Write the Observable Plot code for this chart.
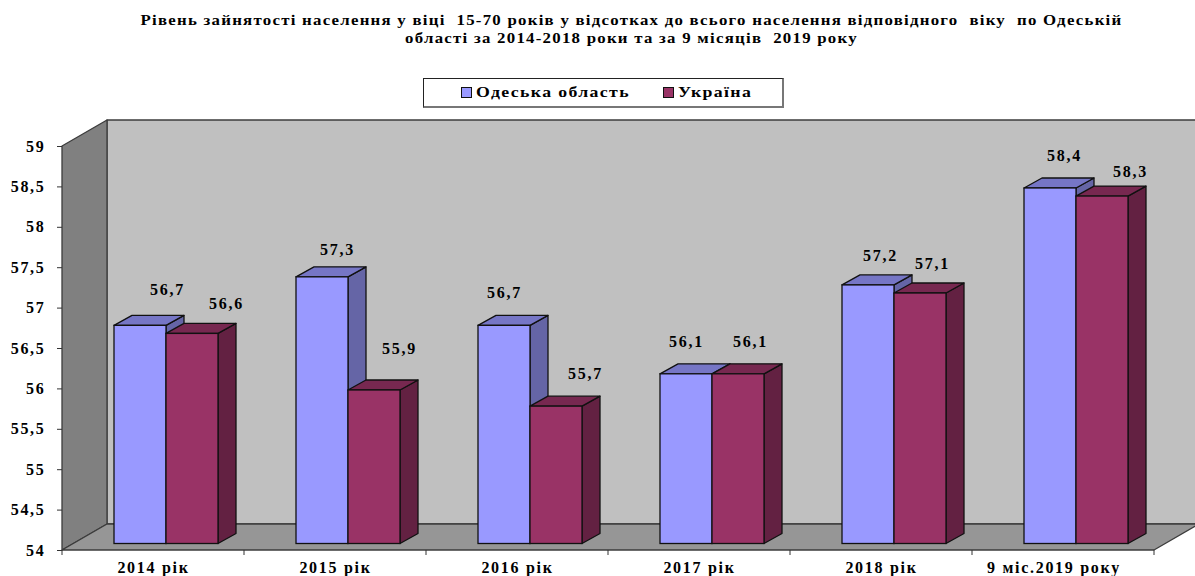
<!DOCTYPE html>
<html lang="uk">
<head>
<meta charset="utf-8">
<script src="https://cdn.jsdelivr.net/npm/d3@7"></script>
<script src="https://cdn.jsdelivr.net/npm/@observablehq/plot@0.6"></script>
<style>
html,body{margin:0;padding:0;background:#fff;}
body{width:1195px;height:576px;overflow:hidden;font-family:"Liberation Serif",serif;font-weight:bold;color:#000;}
#head{height:78px;box-sizing:border-box;padding-top:12px;text-align:center;font-size:14px;line-height:18px;letter-spacing:1.05px;margin-left:68px;white-space:pre;transform:scaleX(1.2);}
#legendrow{height:32px;position:relative;}
#legend{position:absolute;left:423px;top:0;width:358px;height:27px;background:#fff;border:1px solid #222;border-right:2px solid #777;border-bottom:2px solid #777;font-size:15px;letter-spacing:1.15px;}
#legend span{position:absolute;top:5px;line-height:17px;white-space:nowrap;transform:scaleX(1.185);transform-origin:left center;}
#legend i{position:absolute;top:8px;width:9px;height:9px;border:1px solid #111;}
svg{display:block;}
</style>
</head>
<body>
<div id="head">Рівень зайнятості населення у віці  15-70 років у відсотках до всього населення відповідного  віку  по Одеській
області за 2014-2018 роки та за 9 місяців  2019 року</div>
<div id="legendrow"><div id="legend"></div></div>
<div id="chart"></div>
<script>
const categories = ["2014 рік", "2015 рік", "2016 рік", "2017 рік", "2018 рік", "9 міс.2019 року"];
const seriesNames = ["Одеська область", "Україна"];
const odesa = [56.7, 57.3, 56.7, 56.1, 57.2, 58.4];
const ukraine = [56.6, 55.9, 55.7, 56.1, 57.1, 58.3];
const yTicks = [54, 54.5, 55, 55.5, 56, 56.5, 57, 57.5, 58, 58.5, 59];

const comma = d => String(d).replace(".", ",");
const colors = [
  {front: "#9999ff", side: "#6565a6", top: "#7676c6"},
  {front: "#993366", side: "#632142", top: "#772850"}
];
// layout constants (pixels)
const depth = {x: 45, y: -26};       // depth of the box
const barDepth = {x: 18, y: -10};    // depth of each column
const lift = -6.5;                   // columns stand slightly inside the floor
const barW = 52, barStart = 52;
const labelNudge = [
  [[14, -42], [2, -34], [-13, -39], [-13, -39], [-1, -36], [1, -39]],
  [[73, -37], [64, -48], [68, -39], [51, -39], [51, -36], [67, -31]]
];
const stroke = "#111", strokeW = 1.3;

const rows = s => categories.map((c, i) => ({cat: c, value: (s ? ukraine : odesa)[i], i}));

const poly = (pts, fill, st = stroke, sw = strokeW) => {
  const p = document.createElementNS("http://www.w3.org/2000/svg", "polygon");
  p.setAttribute("points", pts.map(q => q.join(",")).join(" "));
  p.setAttribute("fill", fill);
  p.setAttribute("stroke", st);
  p.setAttribute("stroke-width", sw);
  p.setAttribute("stroke-linejoin", "round");
  return p;
};
const group = items => {
  const g = document.createElementNS("http://www.w3.org/2000/svg", "g");
  items.forEach(n => g.appendChild(n));
  return g;
};

// back wall, side wall and floor of the box, placed through the scales
const box = (index, {y}, values, dims) => {
  const l = dims.marginLeft, r = dims.width - dims.marginRight;
  const b = y(54), t = y(59);
  const W = "#3c3c3c";
  return group([
    poly([[l + depth.x, t + depth.y], [dims.width + 20, t + depth.y], [dims.width + 20, b + depth.y], [l + depth.x, b + depth.y]], "#c0c0c0", W),
    poly([[l, t], [l + depth.x, t + depth.y], [l + depth.x, b + depth.y], [l, b]], "#808080", W),
    poly([[l, b], [l + depth.x, b + depth.y], [r + depth.x, b + depth.y], [r, b]], "#969696", W)
  ]);
};

// side and top faces of the columns for one series
const faces = s => (index, {x, y}) => group(rows(s).flatMap(d => {
  const x0 = x(d.cat) + barStart + s * barW, x1 = x0 + barW;
  const yt = y(d.value) + lift, yb = y(54) + lift;
  const {x: ox, y: oy} = barDepth;
  return [
    poly([[x1, yt], [x1 + ox, yt + oy], [x1 + ox, yb + oy], [x1, yb]], colors[s].side),
    poly([[x0, yt], [x0 + ox, yt + oy], [x1 + ox, yt + oy], [x1, yt]], colors[s].top)
  ];
}));

// axis ticks sit on the category boundaries
const boundaryTicks = (index, {x, y}, values, dims) => {
  const xs = categories.map(c => x(c)).concat(dims.width - dims.marginRight);
  return group(xs.map(v => {
    const l = document.createElementNS("http://www.w3.org/2000/svg", "line");
    l.setAttribute("x1", v); l.setAttribute("x2", v);
    l.setAttribute("y1", y(54)); l.setAttribute("y2", y(54) + 5);
    l.setAttribute("stroke", "#333"); l.setAttribute("stroke-width", 1);
    return l;
  }));
};

const columns = s => Plot.barY(rows(s), {
  x: "cat", y1: () => 54, y2: "value", fill: colors[s].front,
  stroke, strokeWidth: strokeW, dy: lift,
  insetLeft: barStart + s * barW, insetRight: 182 - barStart - (s + 1) * barW
});

const labels = s => rows(s).map(d => Plot.text([d], {
  x: "cat", y: "value", text: e => comma(e.value),
  dx: labelNudge[s][d.i][0], dy: labelNudge[s][d.i][1],
  fontSize: 16, fontWeight: "bold", fill: "#000"
}));

const legend = document.getElementById("legend");
[[37, 52], [239, 254]].forEach(([sx, tx], s) => {
  const i = document.createElement("i");
  i.style.left = sx + "px"; i.style.background = colors[s].front;
  const t = document.createElement("span");
  t.style.left = tx + "px"; t.textContent = seriesNames[s];
  legend.append(i, t);
});

const xAxisStyle = {tickSize: 0, tickPadding: 11, fontSize: 16, fontWeight: "bold", fill: "#000", anchor: "bottom", label: null};
const chart = Plot.plot({
  width: 1195, height: 466,
  marginLeft: 62, marginRight: 41, marginTop: 36, marginBottom: 26,
  style: {fontFamily: "Liberation Serif, serif", overflow: "hidden", background: "transparent"},
  x: {type: "band", domain: categories, padding: 0, label: null},
  y: {type: "linear", domain: [54, 59], label: null},
  marks: [
    box,
    faces(0), columns(0),
    faces(1), columns(1),
    Plot.axisY({ticks: yTicks, tickFormat: comma, tickSize: 5, tickPadding: 12, fontSize: 16, fontWeight: "bold", stroke: "#333", fill: "#000", anchor: "left", label: null}),
    Plot.axisX({...xAxisStyle, ticks: categories.slice(0, 5)}),
    Plot.axisX({...xAxisStyle, ticks: categories.slice(5), dx: -9.5}),
    boundaryTicks,
    ...labels(0), ...labels(1)
  ]
});
chart.querySelectorAll("text").forEach(t => t.style.letterSpacing = "1.7px");
document.getElementById("chart").append(chart);
</script>
</body>
</html>
